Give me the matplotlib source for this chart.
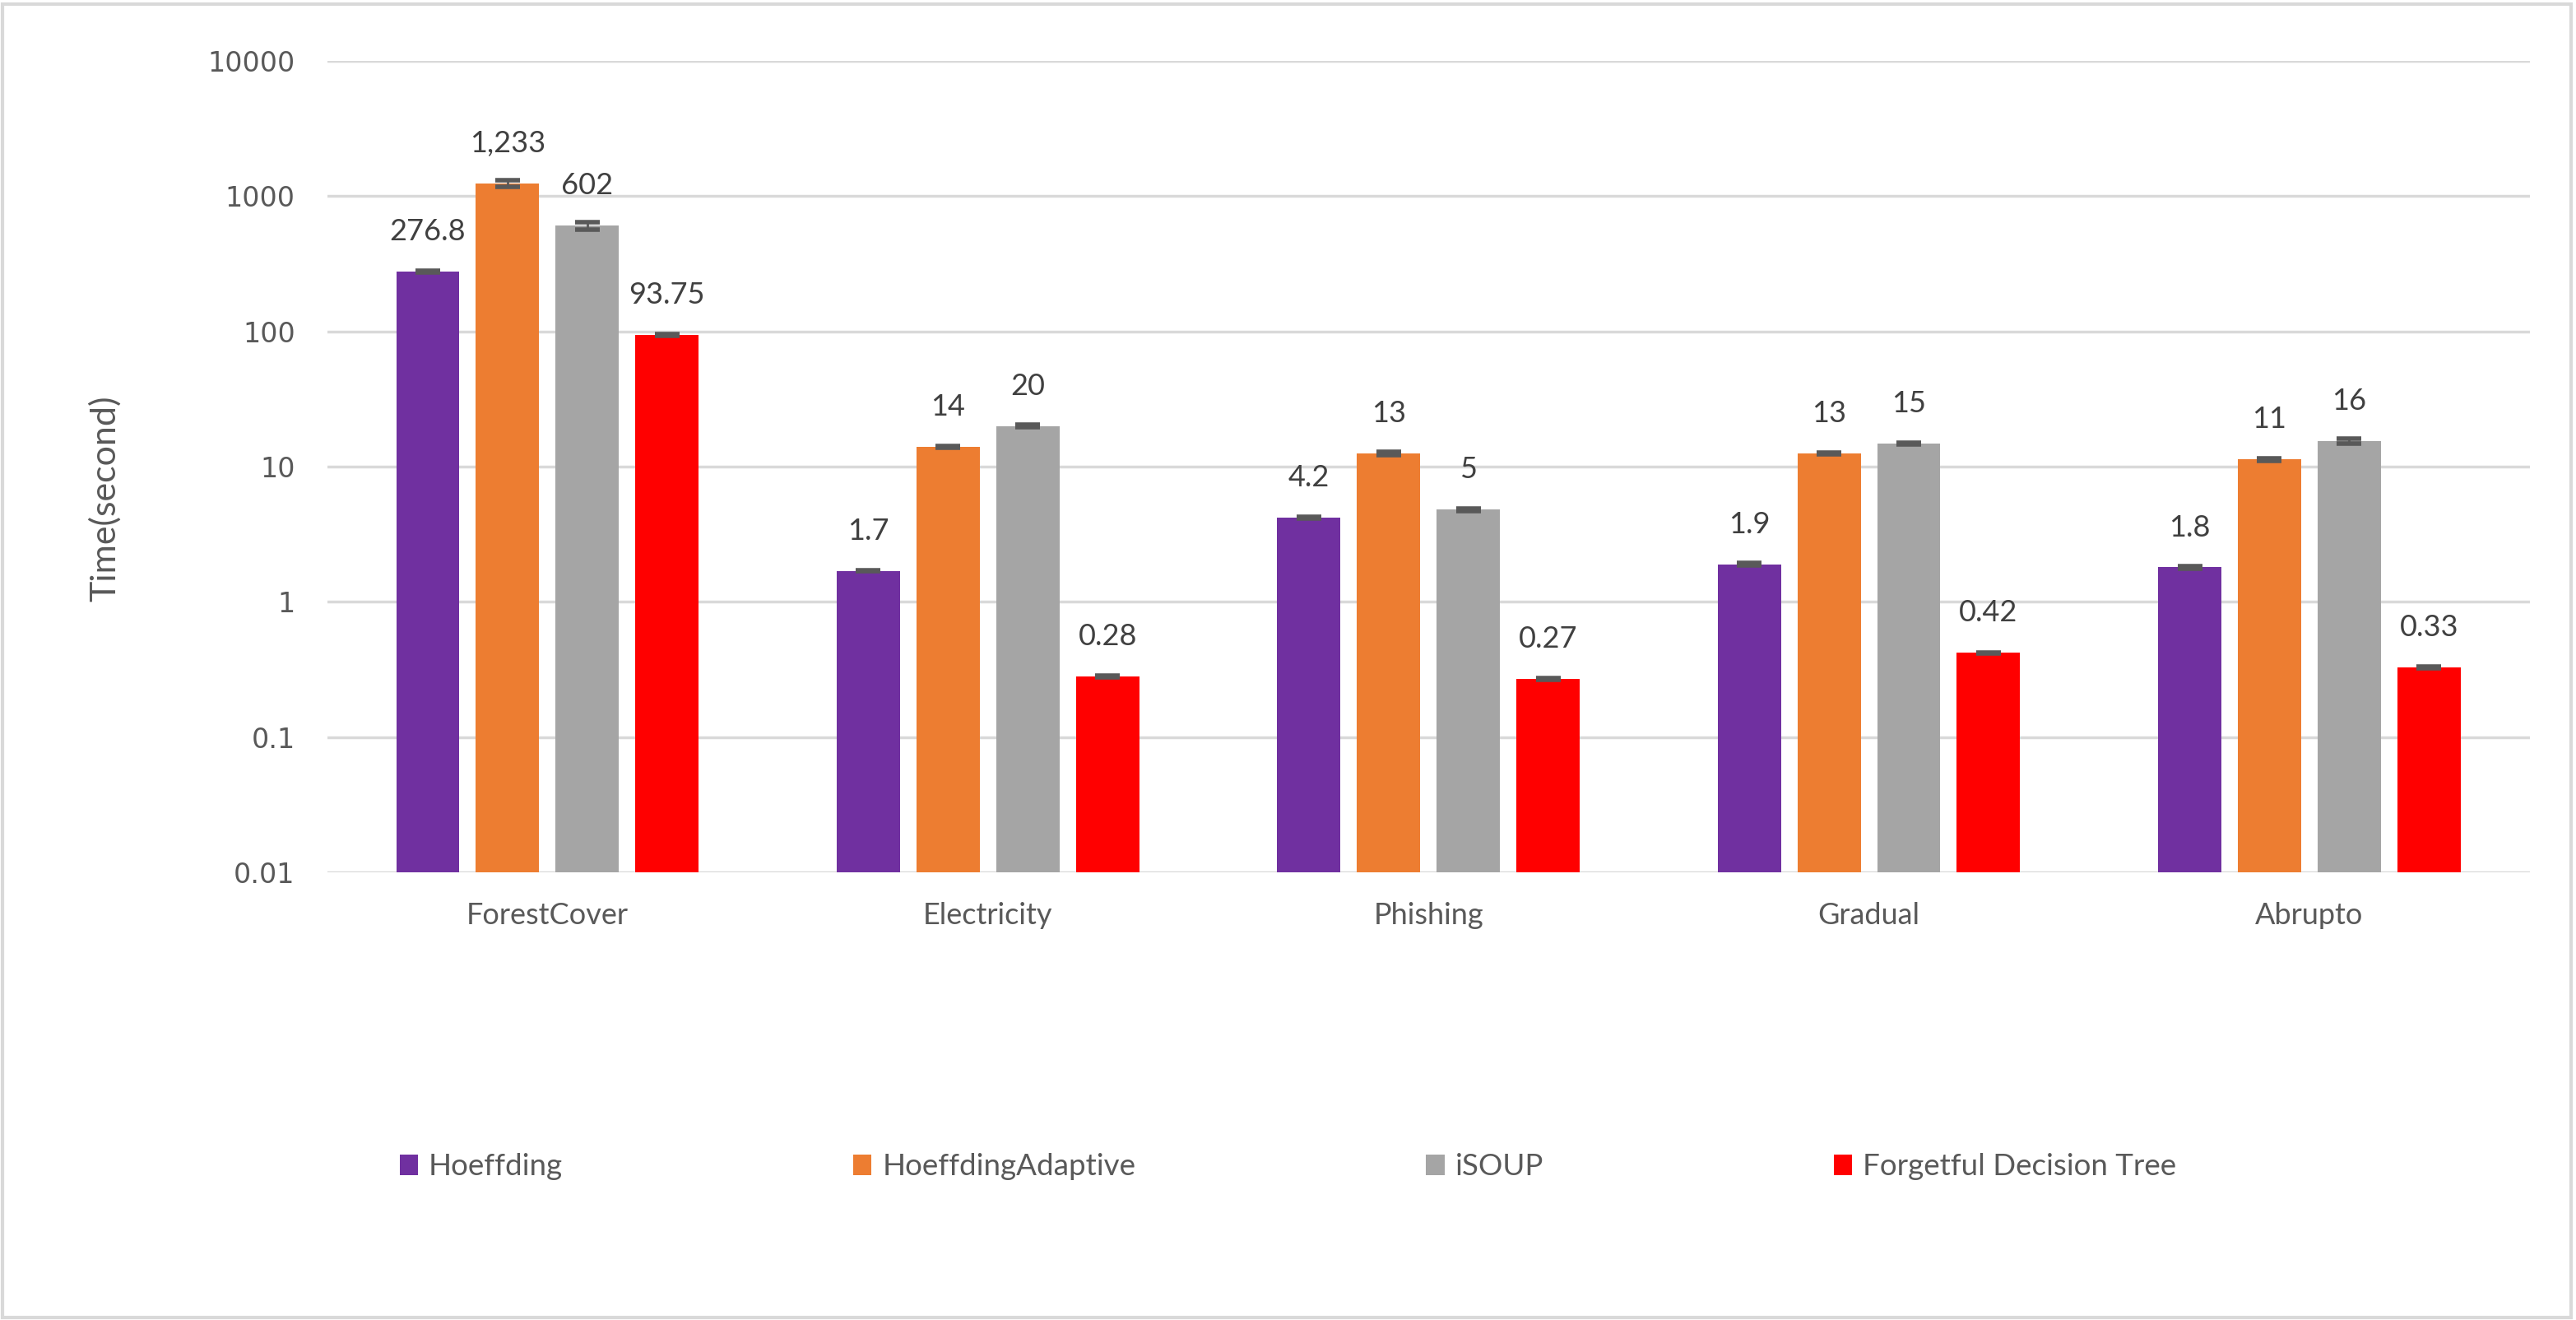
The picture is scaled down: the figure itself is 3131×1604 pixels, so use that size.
import numpy as np
import matplotlib
matplotlib.use("Agg")
import matplotlib.pyplot as plt
from matplotlib.ticker import FixedLocator, FixedFormatter
from matplotlib.patches import Rectangle

plt.rcParams['font.family'] = ['Lato', 'DejaVu Sans']

# data
datasets = ["ForestCover", "Electricity", "Phishing", "Gradual", "Abrupto"]
series = ["Hoeffding", "HoeffdingAdaptive", "iSOUP", "Forgetful Decision Tree"]
colors = ["#7030A0", "#ED7D31", "#A5A5A5", "#FF0000"]

hoeffding = [276.8, 1.7, 4.2, 1.9, 1.8]
hoeffding_adaptive = [1233, 14, 12.5, 12.5, 11.3]
isoup = [602, 20, 4.8, 14.8, 15.5]
forgetful = [93.75, 0.28, 0.27, 0.42, 0.33]

hoeffding_err = [3, 0.02, 0.05, 0.03, 0.03]
hoeffding_adaptive_err = [70, 0.25, 0.35, 0.15, 0.2]
isoup_err = [35, 0.3, 0.1, 0.3, 0.6]
forgetful_err = [1.5, 0.004, 0.004, 0.005, 0.005]

hoeffding_lbl = ["276.8", "1.7", "4.2", "1.9", "1.8"]
hoeffding_adaptive_lbl = ["1,233", "14", "13", "13", "11"]
isoup_lbl = ["602", "20", "5", "15", "16"]
forgetful_lbl = ["93.75", "0.28", "0.27", "0.42", "0.33"]

yticks = [0.01, 0.1, 1, 10, 100, 1000, 10000]
ytick_labels = ["0.01", "0.1", "1", "10", "100", "1000", "10000"]

values = [hoeffding, hoeffding_adaptive, isoup, forgetful]
errors = [hoeffding_err, hoeffding_adaptive_err, isoup_err, forgetful_err]
labels = [hoeffding_lbl, hoeffding_adaptive_lbl, isoup_lbl, forgetful_lbl]

txt = "#595959"
grid = "#D9D9D9"

fig = plt.figure(figsize=(31.31, 16.04), dpi=100)
ax = fig.add_axes([0.127, 0.339, 0.855, 0.615])

x = np.arange(len(datasets))
w = 0.1437
pitch = 0.181

for i in range(4):
    pos = x + (i - 1.5) * pitch
    bars = ax.bar(pos, values[i], w, color=colors[i], label=series[i], zorder=3)
    ax.errorbar(pos, values[i], yerr=errors[i], fmt="none", ecolor=txt,
                elinewidth=2, capsize=11, capthick=4, zorder=4)
    for b, lab in zip(bars, labels[i]):
        ax.annotate(lab, (b.get_x() + b.get_width() / 2, b.get_height()),
                    xytext=(0, 23), textcoords="offset points",
                    ha="center", va="bottom", fontsize=26, color="#404040")

ax.set_yscale("log")
ax.set_ylim(0.01, 10000)
ax.set_xlim(-0.5, len(datasets) - 0.5)
ax.yaxis.set_major_locator(FixedLocator(yticks))
ax.yaxis.set_major_formatter(FixedFormatter(ytick_labels))
ax.yaxis.set_minor_locator(FixedLocator([]))
ax.set_xticks(x)
ax.set_xticklabels(datasets)
ax.tick_params(axis="x", length=0, pad=26, labelsize=26, labelcolor=txt)
ax.tick_params(axis="y", length=0, pad=28, labelsize=24, labelcolor=txt)
for t in ax.get_yticklabels():
    t.set_family("DejaVu Sans")
ax.yaxis.grid(True, color=grid, linewidth=2.5, zorder=0)
for s in ax.spines.values():
    s.set_visible(False)
ax.set_ylabel("Time(second)", fontsize=31, color=txt)
ax.yaxis.set_label_coords(-0.0934, 0.461)

fig.legend(loc="center", bbox_to_anchor=(0.5, 1 - 1418 / 1604), ncol=4,
           frameon=False, fontsize=26.5, labelcolor=txt,
           handlelength=0.6, handleheight=0.66, handletextpad=0.35,
           columnspacing=9.6)

fig.patches.append(Rectangle((0.001, 0.002), 0.997, 0.995, transform=fig.transFigure,
                             fill=False, edgecolor=grid, linewidth=3))

fig.savefig("out.png", dpi=100, facecolor="white")
